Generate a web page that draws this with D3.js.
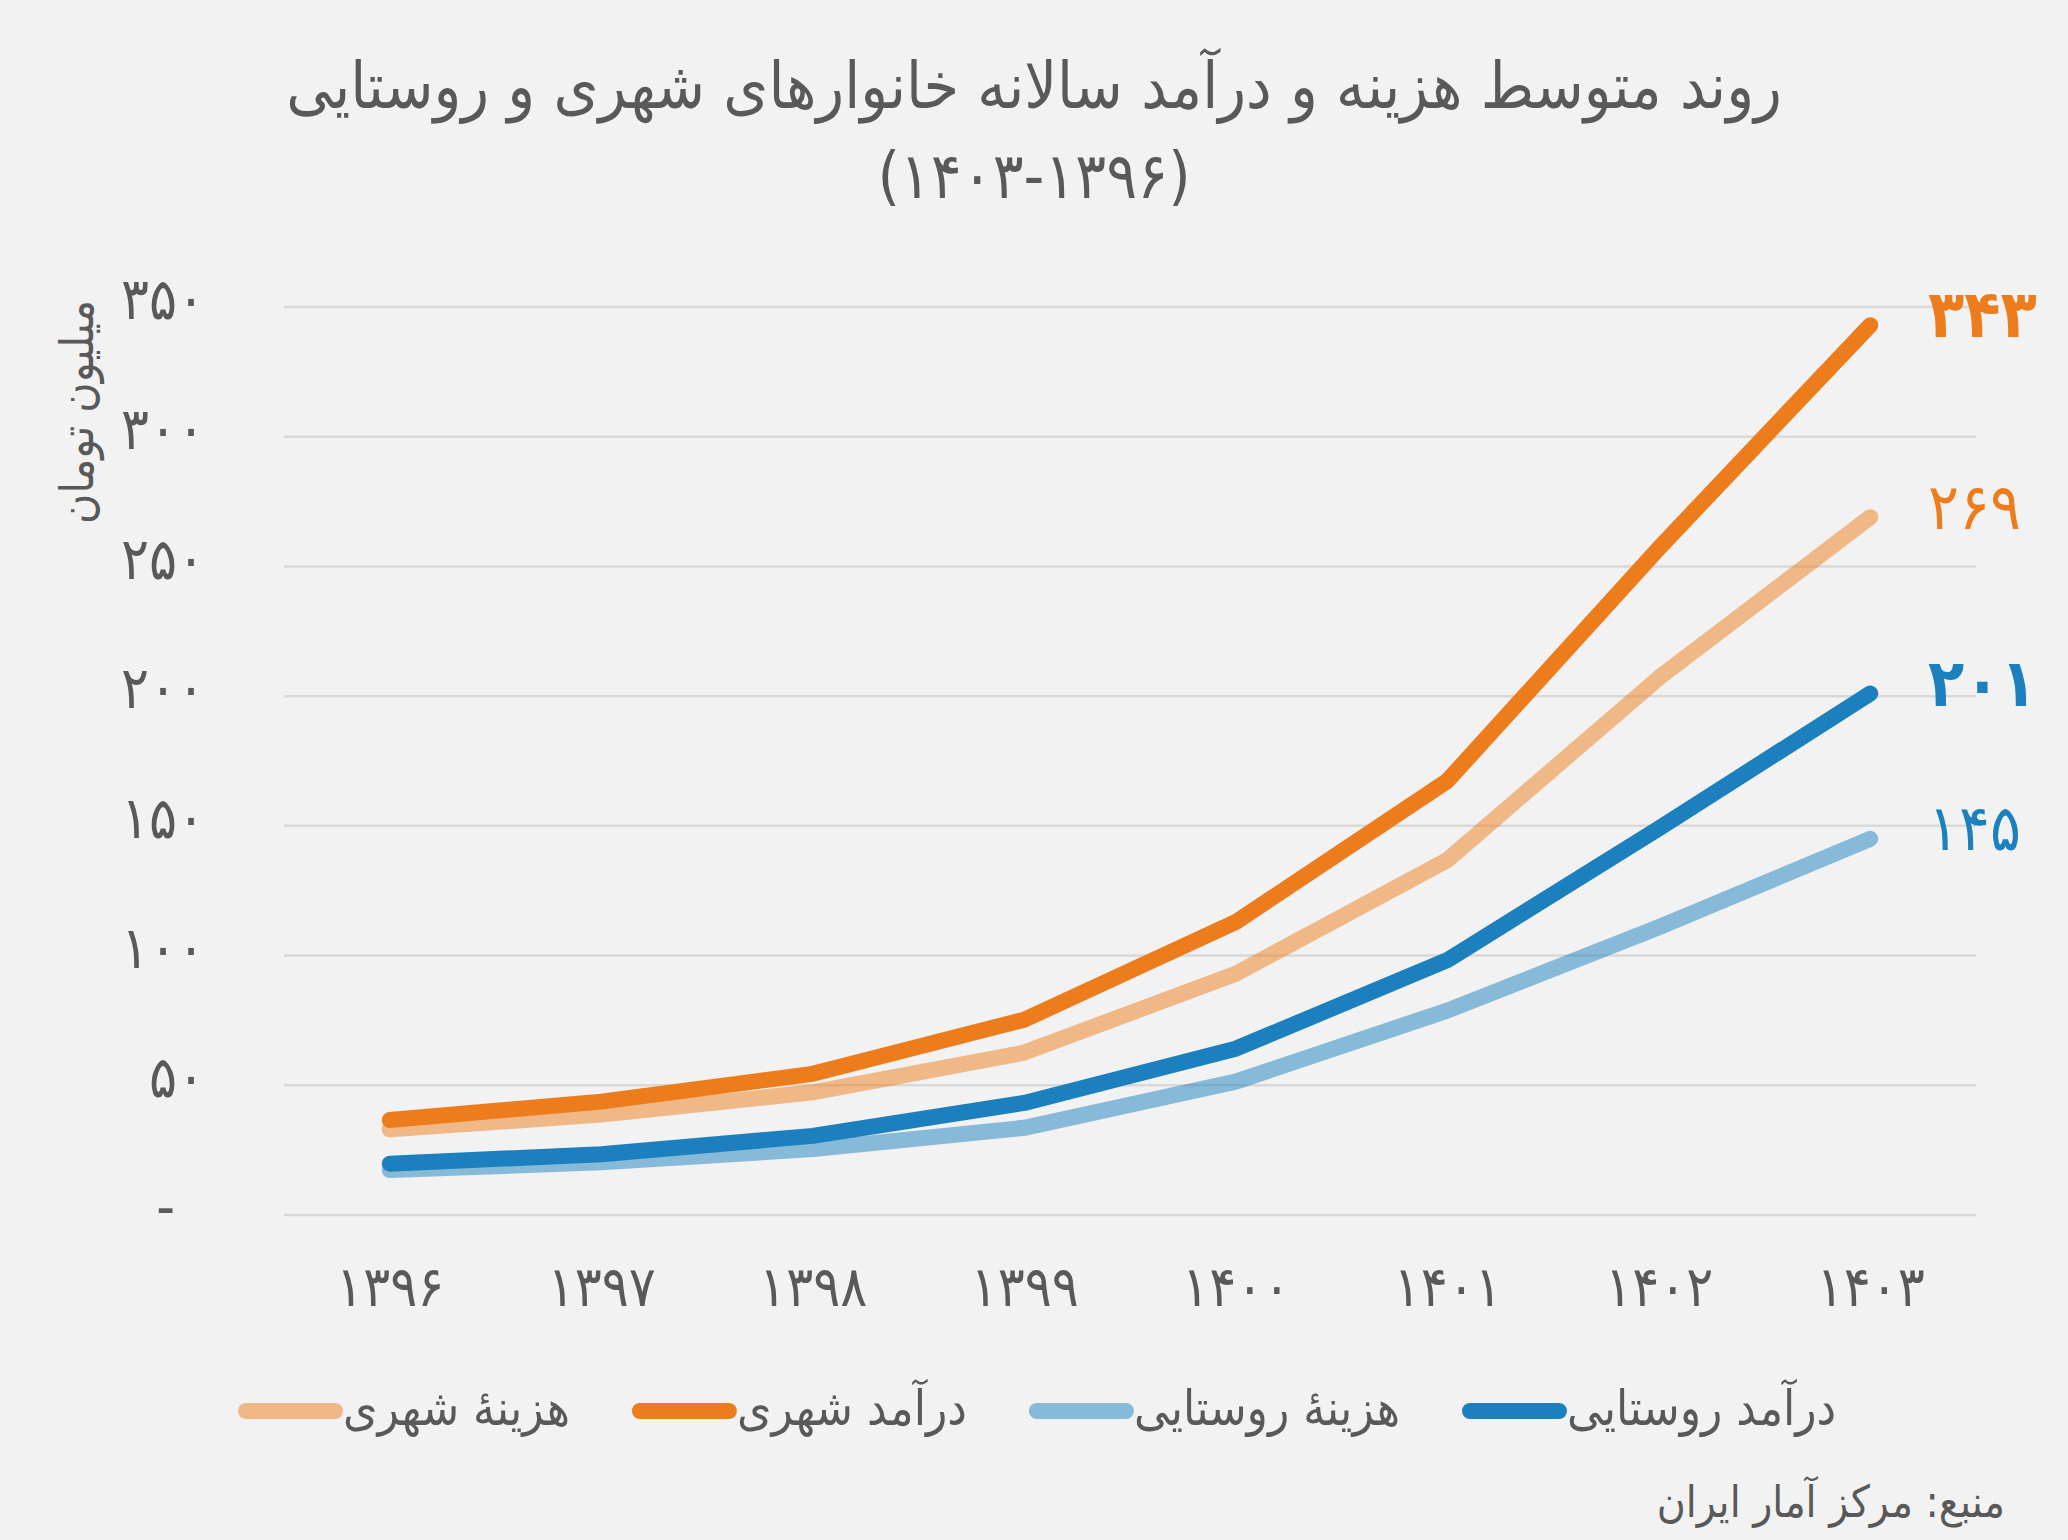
<!DOCTYPE html>
<html>
<head>
<meta charset="utf-8">
<script src="https://cdn.jsdelivr.net/npm/d3@7"></script>
<style>
  html, body { margin: 0; padding: 0; background: #F2F2F2; }
  text { font-family: "DejaVu Sans Condensed", "DejaVu Sans", sans-serif; }
</style>
</head>
<body>
<div id="chart"></div>
<script>
var width = 2068,
    height = 1540

// data
var years = [1396, 1397, 1398, 1399, 1400, 1401, 1402, 1403]
var urbanExpense = [33, 38.7, 47.3, 62.6, 93, 136.8, 207, 269]
var urbanIncome = [36.6, 43.7, 54.4, 75.3, 112.9, 167.3, 257, 343]
var ruralExpense = [17.3, 20.3, 25.4, 33.6, 51.4, 78.8, 110.9, 145]
var ruralIncome = [19.8, 23.4, 30.5, 43.2, 64.1, 98.2, 149, 201]
var yTicks = [0, 50, 100, 150, 200, 250, 300, 350]
var seriesNames = ["هزینهٔ شهری", "درآمد شهری", "هزینهٔ روستایی", "درآمد روستایی"]

var orange = "#ED7D1C",
    blue = "#1B80BD",
    textColor = "#595959"

var series = [
    { name: seriesNames[0], values: urbanExpense, color: orange, opacity: 0.5, bold: false },
    { name: seriesNames[1], values: urbanIncome, color: orange, opacity: 1, bold: true },
    { name: seriesNames[2], values: ruralExpense, color: blue, opacity: 0.5, bold: false },
    { name: seriesNames[3], values: ruralIncome, color: blue, opacity: 1, bold: true }
]

function fa(s) {
    return String(s).replace(/[0-9]/g, function (d) { return "۰۱۲۳۴۵۶۷۸۹"[+d] })
}

var svg = d3.select("#chart")
    .append("svg")
    .attr("width", width)
    .attr("height", height)

svg.append("rect")
    .attr("width", width)
    .attr("height", height)
    .attr("fill", "#F2F2F2")

var plotLeft = 284, plotRight = 1976, plotTop = 307, plotBottom = 1215

var x = d3.scalePoint()
    .domain(years)
    .range([plotLeft, plotRight])
    .padding(0.5)

var y = d3.scaleLinear()
    .domain([0, 350])
    .range([plotBottom, plotTop])

// title
svg.append("text")
    .attr("x", width / 2)
    .attr("y", 90)
    .attr("text-anchor", "middle")
    .attr("dominant-baseline", "middle")
    .attr("font-size", 64)
    .attr("fill", textColor)
    .text("روند متوسط هزینه و درآمد سالانه خانوارهای شهری و روستایی")

svg.append("text")
    .attr("x", width / 2)
    .attr("y", 180)
    .attr("text-anchor", "middle")
    .attr("dominant-baseline", "middle")
    .attr("font-size", 64)
    .attr("fill", textColor)
    .text("(" + fa("1403-1396") + ")")

// gridlines
svg.append("g")
    .selectAll("line")
    .data(yTicks)
    .join("line")
    .attr("x1", plotLeft)
    .attr("x2", plotRight)
    .attr("y1", function (d) { return y(d) })
    .attr("y2", function (d) { return y(d) })
    .attr("stroke", "#D9D9D9")
    .attr("stroke-width", 2.5)

// y axis
var yAxis = svg.append("g")
    .attr("transform", "translate(205,0)")
    .call(d3.axisLeft(y).tickValues(yTicks).tickSize(0).tickPadding(0)
        .tickFormat(function (d) { return d === 0 ? "-" : fa(d) }))

yAxis.select(".domain").remove()
yAxis.selectAll("text")
    .attr("font-size", 58)
    .attr("fill", textColor)
    .attr("font-family", "DejaVu Sans Condensed, DejaVu Sans, sans-serif")
    .attr("dy", "0.2em")
    .attr("dx", function (d) { return d === 0 ? -30 : 0 })

svg.append("text")
    .attr("transform", "translate(80,412) rotate(-90)")
    .attr("text-anchor", "middle")
    .attr("dominant-baseline", "middle")
    .attr("font-size", 46)
    .attr("fill", textColor)
    .text("میلیون تومان")

// x axis
var xAxis = svg.append("g")
    .attr("transform", "translate(0,1266)")
    .call(d3.axisBottom(x).tickSize(0).tickPadding(0).tickFormat(fa))

xAxis.select(".domain").remove()
xAxis.selectAll("text")
    .attr("font-size", 56)
    .attr("fill", textColor)
    .attr("font-family", "DejaVu Sans Condensed, DejaVu Sans, sans-serif")

// lines
var line = d3.line()
    .x(function (d, i) { return x(years[i]) })
    .y(function (d) { return y(d) })

svg.append("g")
    .selectAll("path")
    .data(series)
    .join("path")
    .attr("d", function (d) { return line(d.values) })
    .attr("fill", "none")
    .attr("stroke", function (d) { return d.color })
    .attr("stroke-opacity", function (d) { return d.opacity })
    .attr("stroke-width", 16)
    .attr("stroke-linecap", "round")
    .attr("stroke-linejoin", "round")

// end labels
svg.append("g")
    .selectAll("text")
    .data(series)
    .join("text")
    .attr("x", 1928)
    .attr("y", function (d) { return y(d.values[d.values.length - 1]) - 6 })
    .attr("dominant-baseline", "middle")
    .attr("font-size", function (d) { return d.bold ? 66 : 64 })
    .attr("font-weight", function (d) { return d.bold ? "bold" : "normal" })
    .attr("fill", function (d) { return d.color })
    .text(function (d) { return fa(Math.round(d.values[d.values.length - 1])) })

// legend
var legend = svg.append("g")
var lx = 238, ly = 1411
series.forEach(function (s) {
    legend.append("line")
        .attr("x1", lx + 8)
        .attr("x2", lx + 97)
        .attr("y1", ly)
        .attr("y2", ly)
        .attr("stroke", s.color)
        .attr("stroke-opacity", s.opacity)
        .attr("stroke-width", 16)
        .attr("stroke-linecap", "round")
    var t = legend.append("text")
        .attr("x", lx + 105)
        .attr("y", ly)
        .attr("dominant-baseline", "middle")
        .attr("font-size", 49)
        .attr("fill", textColor)
        .text(s.name)
    lx += 105 + t.node().getComputedTextLength() + 62
})

// source
svg.append("text")
    .attr("x", 2005)
    .attr("y", 1505)
    .attr("text-anchor", "end")
    .attr("dominant-baseline", "middle")
    .attr("font-size", 44)
    .attr("fill", textColor)
    .text("منبع: مرکز آمار ایران")
</script>
</body>
</html>
